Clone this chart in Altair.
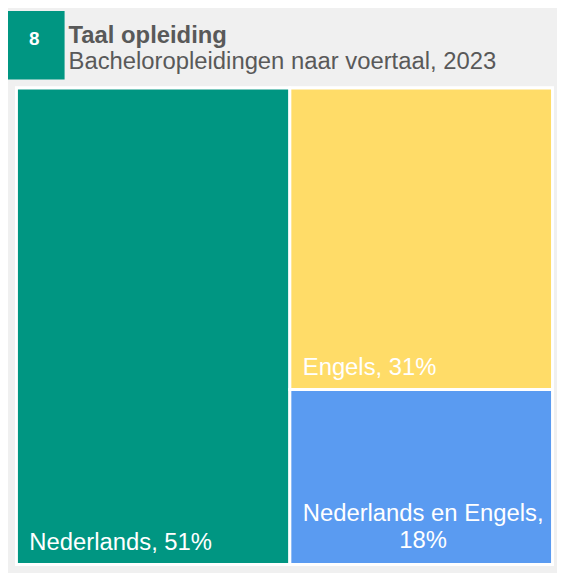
import altair as alt
import pandas as pd

# ---- data ----
categories = ["Nederlands", "Engels", "Nederlands en Engels"]
shares = [51, 31, 18]
wrap_label = [False, False, True]
colors = ["#009682", "#FFDC68", "#5A9BF1"]
badge_text = "8"
title_text = "Taal opleiding"
subtitle_text = "Bacheloropleidingen naar voertaal, 2023"

# ---- treemap layout (slice and dice): first category is a full-height column,
# the remaining categories are stacked in the second column ----
total = sum(shares)
first_w = shares[0] / total * 100
rows = [dict(cat=categories[0], share=shares[0], x0=0.0, x1=first_w, y0=0.0, y1=100.0)]
rest = sum(shares[1:])
ypos = 0.0
for c, s in zip(categories[1:], shares[1:]):
    h = s / rest * 100
    rows.append(dict(cat=c, share=s, x0=first_w, x1=100.0, y0=ypos, y1=ypos + h))
    ypos += h
df = pd.DataFrame(rows)
nl = "\n"
df["label"] = [f"{c},{nl if w else ' '}{s}%" for c, s, w in zip(categories, shares, wrap_label)]
df["xc"] = (df["x0"] + df["x1"]) / 2
df["wrap"] = wrap_label

FONT = "Liberation Sans"
xs = alt.Scale(domain=[0, 100], nice=False, zero=False)
ys = alt.Scale(domain=[0, 100], nice=False, zero=False, reverse=True)

rects = alt.Chart(df).mark_rect(stroke="white", strokeWidth=3).encode(
    x=alt.X("x0:Q", scale=xs, axis=None),
    x2="x1:Q",
    y=alt.Y("y0:Q", scale=ys, axis=None),
    y2="y1:Q",
    color=alt.Color("cat:N", scale=alt.Scale(domain=categories, range=colors), legend=None),
)

labels_left = alt.Chart(df[~df["wrap"]]).mark_text(
    align="left", baseline="alphabetic", dx=13, dy=-14.5,
    fontSize=24, font=FONT, color="white",
).encode(
    x=alt.X("x0:Q", scale=xs, axis=None),
    y=alt.Y("y1:Q", scale=ys, axis=None),
    text="label:N",
)

labels_center = alt.Chart(df[df["wrap"]]).mark_text(
    align="center", baseline="alphabetic", dx=2, dy=-43.5, lineBreak="\n", lineHeight=27,
    fontSize=24, font=FONT, color="white",
).encode(
    x=alt.X("xc:Q", scale=xs, axis=None),
    y=alt.Y("y1:Q", scale=ys, axis=None),
    text="label:N",
)

head = pd.DataFrame({"badge": [badge_text], "title": [title_text], "subtitle": [subtitle_text]})

badge = alt.Chart(head).mark_rect(color="#009682").encode(
    x=alt.value(-8.5), x2=alt.value(48.5), y=alt.value(-77.5), y2=alt.value(-8.5)
)
badge_num = alt.Chart(head).mark_text(
    align="center", baseline="alphabetic", fontSize=19, fontWeight="bold", font=FONT, color="white"
).encode(x=alt.value(18), y=alt.value(-43.5), text="badge:N")
title = alt.Chart(head).mark_text(
    align="left", baseline="alphabetic", fontSize=24, fontWeight="bold", font=FONT, color="#595959"
).encode(x=alt.value(52.5), y=alt.value(-45), text="title:N")
subtitle = alt.Chart(head).mark_text(
    align="left", baseline="alphabetic", fontSize=24, font=FONT, color="#595959"
).encode(x=alt.value(52.5), y=alt.value(-19), text="subtitle:N")

chart = alt.layer(rects, labels_left, labels_center, badge, badge_num, title, subtitle).properties(
    width=540,
    height=480,
    background="#f0f0f0",
    padding={"left": 8.5, "top": 78.5, "right": 4.5, "bottom": 6.5},
    autosize=alt.AutoSizeParams(type="none"),
).configure_view(fill="white", stroke="white", strokeWidth=3)

chart.save("out.html", embed_options={"renderer": "svg", "actions": False})
